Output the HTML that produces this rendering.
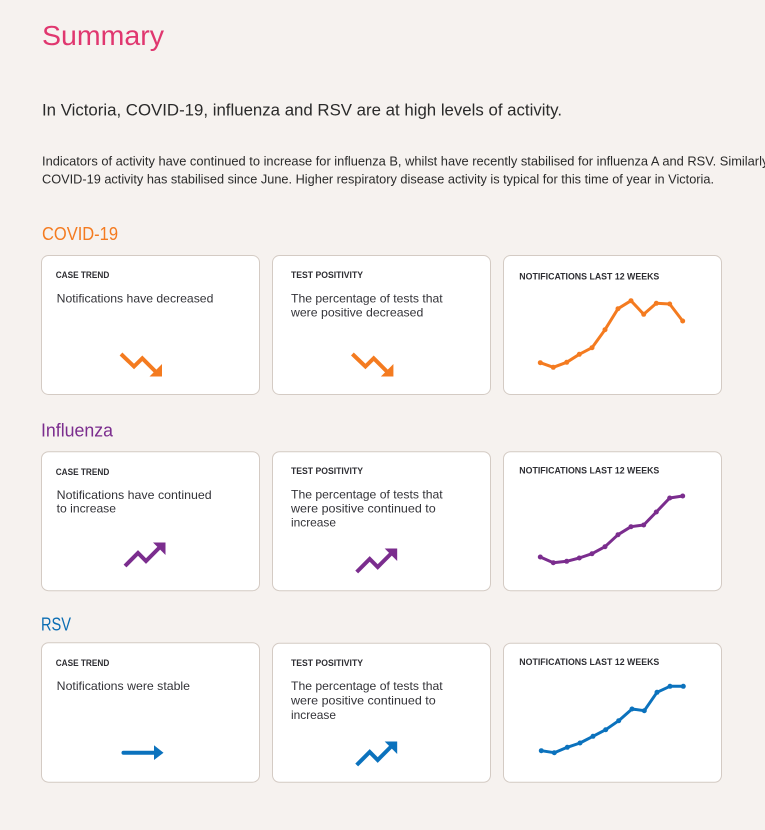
<!DOCTYPE html>
<html><head><meta charset="utf-8"><style>
html,body{margin:0;padding:0;background:#f6f2ef;}
svg{display:block;}
text{font-family:"Liberation Sans",Arial,sans-serif;}
.lb{font-size:9px;font-weight:bold;fill:#2e2e33;}
.bd{font-size:12px;fill:#333338;}
.card{fill:#ffffff;stroke:#d4cbc4;stroke-width:1;}
</style></head><body>
<svg width="765" height="830" viewBox="0 0 765 830" xmlns="http://www.w3.org/2000/svg">
<rect x="0" y="0" width="765" height="830" fill="#f6f2ef"/>
<text x="42" y="45" font-size="28" fill="#e0376f" textLength="122" lengthAdjust="spacingAndGlyphs">Summary</text>
<text x="42" y="115.7" font-size="17" fill="#2a2a2a" textLength="520" lengthAdjust="spacingAndGlyphs">In Victoria, COVID-19, influenza and RSV are at high levels of activity.</text>
<text x="42" y="165.7" font-size="12.5" fill="#2a2a2a" textLength="729" lengthAdjust="spacingAndGlyphs">Indicators of activity have continued to increase for influenza B, whilst have recently stabilised for influenza A and RSV. Similarly,</text>
<text x="42" y="183.3" font-size="12.5" fill="#2a2a2a" textLength="672" lengthAdjust="spacingAndGlyphs">COVID-19 activity has stabilised since June. Higher respiratory disease activity is typical for this time of year in Victoria.</text>

<!-- COVID -->
<text x="42" y="240" font-size="18" fill="#f47b20" textLength="76" lengthAdjust="spacingAndGlyphs">COVID-19</text>
<rect class="card" x="41.5" y="255.5" width="218" height="139" rx="7"/>
<rect class="card" x="272.5" y="255.5" width="218" height="139" rx="7"/>
<rect class="card" x="503.5" y="255.5" width="218" height="139" rx="7"/>
<text class="lb" x="55.7" y="278" textLength="53.6" lengthAdjust="spacingAndGlyphs">CASE TREND</text>
<text class="lb" x="291" y="278" textLength="72" lengthAdjust="spacingAndGlyphs">TEST POSITIVITY</text>
<text class="lb" x="519.3" y="279.3" textLength="140" lengthAdjust="spacingAndGlyphs">NOTIFICATIONS LAST 12 WEEKS</text>
<text class="bd" x="56.7" y="302.3" textLength="156.7" lengthAdjust="spacingAndGlyphs">Notifications have decreased</text>
<text class="bd" x="291" y="302.3" textLength="151.7" lengthAdjust="spacingAndGlyphs">The percentage of tests that</text>
<text class="bd" x="291" y="316.7" textLength="132.3" lengthAdjust="spacingAndGlyphs">were positive decreased</text>
<g fill="#f47b20" stroke="#f47b20">
 <polyline points="121,354 134,366.5 142.3,358.3 155.5,371.5" fill="none" stroke-width="4" stroke-linejoin="miter"/>
 <polygon points="162,376.5 162,364 149.5,376.5" stroke="none"/>
 <polyline points="352.4,354 365.4,366.5 373.7,358.3 386.9,371.5" fill="none" stroke-width="4" stroke-linejoin="miter"/>
 <polygon points="393.4,376.5 393.4,364 380.9,376.5" stroke="none"/>
</g>
<g fill="#f47b20">
 <polyline points="540.3,362.7 553.3,367.3 566.7,362.3 579.3,354.3 592,347.7 605,329.7 618,308.7 631,300.7 643.7,314.3 656.3,303.3 669.7,304 682.7,321" fill="none" stroke="#f47b20" stroke-width="3" stroke-linejoin="round"/>
 <circle cx="540.3" cy="362.7" r="2.5"/><circle cx="553.3" cy="367.3" r="2.5"/><circle cx="566.7" cy="362.3" r="2.5"/><circle cx="579.3" cy="354.3" r="2.5"/><circle cx="592" cy="347.7" r="2.5"/><circle cx="605" cy="329.7" r="2.5"/><circle cx="618" cy="308.7" r="2.5"/><circle cx="631" cy="300.7" r="2.5"/><circle cx="643.7" cy="314.3" r="2.5"/><circle cx="656.3" cy="303.3" r="2.5"/><circle cx="669.7" cy="304" r="2.5"/><circle cx="682.7" cy="321" r="2.5"/>
</g>

<!-- Influenza -->
<text x="41" y="436.7" font-size="18" fill="#7b2d8e" textLength="72" lengthAdjust="spacingAndGlyphs">Influenza</text>
<rect class="card" x="41.5" y="451.7" width="218" height="139" rx="7"/>
<rect class="card" x="272.5" y="451.7" width="218" height="139" rx="7"/>
<rect class="card" x="503.5" y="451.7" width="218" height="139" rx="7"/>
<text class="lb" x="55.7" y="475" textLength="53.6" lengthAdjust="spacingAndGlyphs">CASE TREND</text>
<text class="lb" x="291" y="474" textLength="72" lengthAdjust="spacingAndGlyphs">TEST POSITIVITY</text>
<text class="lb" x="519.3" y="473.3" textLength="140" lengthAdjust="spacingAndGlyphs">NOTIFICATIONS LAST 12 WEEKS</text>
<text class="bd" x="56.7" y="499" textLength="155" lengthAdjust="spacingAndGlyphs">Notifications have continued</text>
<text class="bd" x="56.7" y="512.7" textLength="59.3" lengthAdjust="spacingAndGlyphs">to increase</text>
<text class="bd" x="291" y="498.3" textLength="151.7" lengthAdjust="spacingAndGlyphs">The percentage of tests that</text>
<text class="bd" x="291" y="512.7" textLength="144.7" lengthAdjust="spacingAndGlyphs">were positive continued to</text>
<text class="bd" x="291" y="526.7" textLength="45" lengthAdjust="spacingAndGlyphs">increase</text>
<g fill="#7b2d8e" stroke="#7b2d8e">
 <polyline points="125,566 138,553 146,561 159.5,547.5" fill="none" stroke-width="4"/>
 <polygon points="165.5,542.5 165.5,555 153,542.5" stroke="none"/>
 <polyline points="356.7,572 369.7,559 377.7,567 391.2,553.5" fill="none" stroke-width="4"/>
 <polygon points="397.2,548.5 397.2,561 384.7,548.5" stroke="none"/>
</g>
<g fill="#7b2d8e">
 <polyline points="540.3,557 553.3,562.7 566.7,561.3 579.3,558 592,553.7 605,546.7 618,534.7 631,526.7 643.7,525 656.3,512 669.7,498 682.7,496" fill="none" stroke="#7b2d8e" stroke-width="3" stroke-linejoin="round"/>
 <circle cx="540.3" cy="557" r="2.5"/><circle cx="553.3" cy="562.7" r="2.5"/><circle cx="566.7" cy="561.3" r="2.5"/><circle cx="579.3" cy="558" r="2.5"/><circle cx="592" cy="553.7" r="2.5"/><circle cx="605" cy="546.7" r="2.5"/><circle cx="618" cy="534.7" r="2.5"/><circle cx="631" cy="526.7" r="2.5"/><circle cx="643.7" cy="525" r="2.5"/><circle cx="656.3" cy="512" r="2.5"/><circle cx="669.7" cy="498" r="2.5"/><circle cx="682.7" cy="496" r="2.5"/>
</g>

<!-- RSV -->
<text x="41" y="630.7" font-size="18" fill="#0b6db3" textLength="30" lengthAdjust="spacingAndGlyphs">RSV</text>
<rect class="card" x="41.5" y="642.7" width="218" height="139.5" rx="7"/>
<rect class="card" x="272.5" y="643.3" width="218" height="139" rx="7"/>
<rect class="card" x="503.5" y="643.3" width="218" height="139" rx="7"/>
<text class="lb" x="55.7" y="666" textLength="53.6" lengthAdjust="spacingAndGlyphs">CASE TREND</text>
<text class="lb" x="291" y="666" textLength="72" lengthAdjust="spacingAndGlyphs">TEST POSITIVITY</text>
<text class="lb" x="519.3" y="665" textLength="140" lengthAdjust="spacingAndGlyphs">NOTIFICATIONS LAST 12 WEEKS</text>
<text class="bd" x="56.7" y="690" textLength="133.3" lengthAdjust="spacingAndGlyphs">Notifications were stable</text>
<text class="bd" x="291" y="690" textLength="151.7" lengthAdjust="spacingAndGlyphs">The percentage of tests that</text>
<text class="bd" x="291" y="704.7" textLength="144.7" lengthAdjust="spacingAndGlyphs">were positive continued to</text>
<text class="bd" x="291" y="719" textLength="45" lengthAdjust="spacingAndGlyphs">increase</text>
<g fill="#0b72bd" stroke="#0b72bd">
 <line x1="123.5" y1="752.7" x2="156" y2="752.7" stroke-width="4" stroke-linecap="round"/>
 <polygon points="163.5,752.7 154,745.3 154,760" stroke="none"/>
 <polyline points="356.7,765 369.7,752 377.7,760 391.2,746.5" fill="none" stroke-width="4"/>
 <polygon points="397.2,741.5 397.2,754 384.7,741.5" stroke="none"/>
</g>
<g fill="#0b72bd">
 <polyline points="541.3,750.7 554.3,752.7 567.3,747.3 580,743 593,736.3 605.7,729.7 618.7,720.7 632,709 644.3,710.7 657,692.3 670,686.3 683.3,686.3" fill="none" stroke="#0b72bd" stroke-width="3" stroke-linejoin="round"/>
 <circle cx="541.3" cy="750.7" r="2.5"/><circle cx="554.3" cy="752.7" r="2.5"/><circle cx="567.3" cy="747.3" r="2.5"/><circle cx="580" cy="743" r="2.5"/><circle cx="593" cy="736.3" r="2.5"/><circle cx="605.7" cy="729.7" r="2.5"/><circle cx="618.7" cy="720.7" r="2.5"/><circle cx="632" cy="709" r="2.5"/><circle cx="644.3" cy="710.7" r="2.5"/><circle cx="657" cy="692.3" r="2.5"/><circle cx="670" cy="686.3" r="2.5"/><circle cx="683.3" cy="686.3" r="2.5"/>
</g>
</svg>
</body></html>
